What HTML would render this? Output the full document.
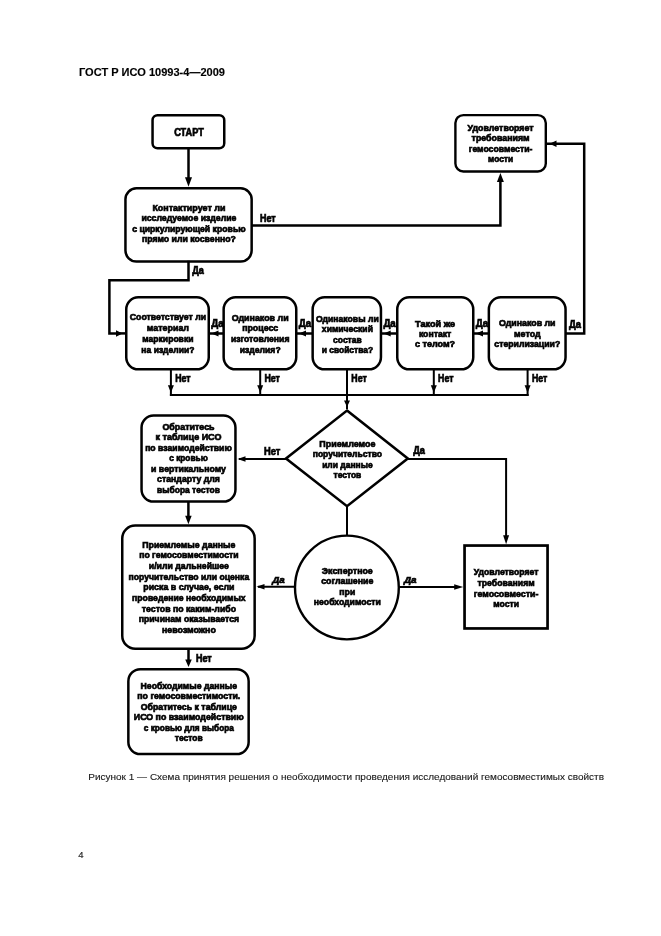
<!DOCTYPE html>
<html><head><meta charset="utf-8"><title>ГОСТ Р ИСО 10993-4—2009</title>
<style>
html,body{margin:0;padding:0;background:#fff;}
body{width:661px;height:936px;overflow:hidden;position:relative;font-family:"Liberation Sans",sans-serif;}
svg{position:absolute;left:0;top:0;will-change:transform;font-family:"Liberation Sans",sans-serif;}
</style></head><body>
<svg width="661" height="936" viewBox="0 0 661 936">
<text x="79" y="75.8" font-size="11.5" text-anchor="start" font-weight="bold" fill="#000" textLength="146" lengthAdjust="spacingAndGlyphs" stroke="#000" stroke-width="0.15">ГОСТ Р ИСО 10993-4—2009</text>
<rect x="152.55" y="115.25" width="71.70" height="33.10" rx="5" ry="5" fill="none" stroke="#000" stroke-width="2.5"/>
<text x="189" y="135.5" font-size="10.8" text-anchor="middle" font-weight="bold" fill="#000" textLength="29.7" lengthAdjust="spacingAndGlyphs" stroke="#000" stroke-width="0.7">СТАРТ</text>
<path d="M188.5 149 L188.5 178" fill="none" stroke="#000" stroke-width="2.5" stroke-linejoin="miter" stroke-linecap="square"/>
<polygon points="188.50,186.80 185.00,177.30 192.00,177.30" fill="#000"/>
<rect x="125.45" y="188.35" width="126.20" height="73.20" rx="11" ry="11" fill="none" stroke="#000" stroke-width="2.5"/>
<text x="188.9" y="210.6" font-size="9.5" text-anchor="middle" font-weight="bold" fill="#000" textLength="73" lengthAdjust="spacingAndGlyphs" stroke="#000" stroke-width="0.7">Контактирует ли</text>
<text x="188.9" y="221.2" font-size="9.5" text-anchor="middle" font-weight="bold" fill="#000" textLength="95" lengthAdjust="spacingAndGlyphs" stroke="#000" stroke-width="0.7">исследуемое изделие</text>
<text x="188.9" y="231.8" font-size="9.5" text-anchor="middle" font-weight="bold" fill="#000" textLength="113.5" lengthAdjust="spacingAndGlyphs" stroke="#000" stroke-width="0.7">с циркулирующей кровью</text>
<text x="188.9" y="242.4" font-size="9.5" text-anchor="middle" font-weight="bold" fill="#000" textLength="94" lengthAdjust="spacingAndGlyphs" stroke="#000" stroke-width="0.7">прямо или косвенно?</text>
<path d="M253 225.5 L500.4 225.5 L500.4 180" fill="none" stroke="#000" stroke-width="2.5" stroke-linejoin="miter" stroke-linecap="square"/>
<polygon points="500.40,173.00 496.90,182.00 503.90,182.00" fill="#000"/>
<text x="260" y="221.6" font-size="10.6" text-anchor="start" font-weight="bold" fill="#000" textLength="15.7" lengthAdjust="spacingAndGlyphs" stroke="#000" stroke-width="0.7">Нет</text>
<rect x="455.40" y="115.10" width="90.40" height="56.40" rx="8" ry="8" fill="none" stroke="#000" stroke-width="2.4"/>
<text x="500.6" y="130.6" font-size="9.5" text-anchor="middle" font-weight="bold" fill="#000" textLength="66" lengthAdjust="spacingAndGlyphs" stroke="#000" stroke-width="0.7">Удовлетворяет</text>
<text x="500.6" y="141.2" font-size="9.5" text-anchor="middle" font-weight="bold" fill="#000" textLength="58" lengthAdjust="spacingAndGlyphs" stroke="#000" stroke-width="0.7">требованиям</text>
<text x="500.6" y="151.8" font-size="9.5" text-anchor="middle" font-weight="bold" fill="#000" textLength="63.6" lengthAdjust="spacingAndGlyphs" stroke="#000" stroke-width="0.7">гемосовмести-</text>
<text x="500.6" y="162.4" font-size="9.5" text-anchor="middle" font-weight="bold" fill="#000" textLength="25" lengthAdjust="spacingAndGlyphs" stroke="#000" stroke-width="0.7">мости</text>
<path d="M566.8 333.6 L584.2 333.6 L584.2 143.7 L547 143.7" fill="none" stroke="#000" stroke-width="2.5" stroke-linejoin="miter" stroke-linecap="square"/>
<polygon points="549.50,143.70 556.50,140.45 556.50,146.95" fill="#000"/>
<text x="569" y="328.3" font-size="10.6" text-anchor="start" font-weight="bold" fill="#000" textLength="12" lengthAdjust="spacingAndGlyphs" stroke="#000" stroke-width="0.7">Да</text>
<path d="M188.5 262 L188.5 280.2 L109.4 280.2 L109.4 333.4 L118 333.4" fill="none" stroke="#000" stroke-width="2.5" stroke-linejoin="miter" stroke-linecap="square"/>
<polygon points="122.50,333.40 116.00,330.15 116.00,336.65" fill="#000"/>
<path d="M120 333.4 L125 333.4" fill="none" stroke="#000" stroke-width="2.5" stroke-linejoin="miter" stroke-linecap="square"/>
<text x="192.2" y="274" font-size="10.6" text-anchor="start" font-weight="bold" fill="#000" textLength="11.6" lengthAdjust="spacingAndGlyphs" stroke="#000" stroke-width="0.7">Да</text>
<rect x="126.25" y="297.35" width="82.50" height="72.00" rx="12" ry="12" fill="none" stroke="#000" stroke-width="2.5"/>
<rect x="223.65" y="297.35" width="72.60" height="72.00" rx="12" ry="12" fill="none" stroke="#000" stroke-width="2.5"/>
<rect x="312.65" y="297.35" width="68.30" height="72.00" rx="12" ry="12" fill="none" stroke="#000" stroke-width="2.5"/>
<rect x="397.25" y="297.35" width="76.00" height="72.00" rx="12" ry="12" fill="none" stroke="#000" stroke-width="2.5"/>
<rect x="488.85" y="297.35" width="76.70" height="72.00" rx="12" ry="12" fill="none" stroke="#000" stroke-width="2.5"/>
<text x="167.9" y="319.6" font-size="9.5" text-anchor="middle" font-weight="bold" fill="#000" textLength="76.2" lengthAdjust="spacingAndGlyphs" stroke="#000" stroke-width="0.7">Соответствует ли</text>
<text x="167.9" y="330.57" font-size="9.5" text-anchor="middle" font-weight="bold" fill="#000" textLength="42.2" lengthAdjust="spacingAndGlyphs" stroke="#000" stroke-width="0.7">материал</text>
<text x="167.9" y="341.54" font-size="9.5" text-anchor="middle" font-weight="bold" fill="#000" textLength="51.1" lengthAdjust="spacingAndGlyphs" stroke="#000" stroke-width="0.7">маркировки</text>
<text x="167.9" y="352.51" font-size="9.5" text-anchor="middle" font-weight="bold" fill="#000" textLength="53.1" lengthAdjust="spacingAndGlyphs" stroke="#000" stroke-width="0.7">на изделии?</text>
<text x="260.2" y="320.6" font-size="9.5" text-anchor="middle" font-weight="bold" fill="#000" textLength="56.9" lengthAdjust="spacingAndGlyphs" stroke="#000" stroke-width="0.7">Одинаков ли</text>
<text x="260.2" y="331.25" font-size="9.5" text-anchor="middle" font-weight="bold" fill="#000" textLength="36.1" lengthAdjust="spacingAndGlyphs" stroke="#000" stroke-width="0.7">процесс</text>
<text x="260.2" y="341.9" font-size="9.5" text-anchor="middle" font-weight="bold" fill="#000" textLength="58.5" lengthAdjust="spacingAndGlyphs" stroke="#000" stroke-width="0.7">изготовления</text>
<text x="260.2" y="352.55" font-size="9.5" text-anchor="middle" font-weight="bold" fill="#000" textLength="40.9" lengthAdjust="spacingAndGlyphs" stroke="#000" stroke-width="0.7">изделия?</text>
<text x="347.4" y="321.5" font-size="9.5" text-anchor="middle" font-weight="bold" fill="#000" textLength="62.6" lengthAdjust="spacingAndGlyphs" stroke="#000" stroke-width="0.7">Одинаковы ли</text>
<text x="347.4" y="332.0" font-size="9.5" text-anchor="middle" font-weight="bold" fill="#000" textLength="51.1" lengthAdjust="spacingAndGlyphs" stroke="#000" stroke-width="0.7">химический</text>
<text x="347.4" y="342.5" font-size="9.5" text-anchor="middle" font-weight="bold" fill="#000" textLength="28.6" lengthAdjust="spacingAndGlyphs" stroke="#000" stroke-width="0.7">состав</text>
<text x="347.4" y="353.0" font-size="9.5" text-anchor="middle" font-weight="bold" fill="#000" textLength="51.5" lengthAdjust="spacingAndGlyphs" stroke="#000" stroke-width="0.7">и свойства?</text>
<text x="435.1" y="326.8" font-size="9.5" text-anchor="middle" font-weight="bold" fill="#000" textLength="40" lengthAdjust="spacingAndGlyphs" stroke="#000" stroke-width="0.7">Такой же</text>
<text x="435.1" y="337.1" font-size="9.5" text-anchor="middle" font-weight="bold" fill="#000" textLength="32.4" lengthAdjust="spacingAndGlyphs" stroke="#000" stroke-width="0.7">контакт</text>
<text x="435.1" y="347.4" font-size="9.5" text-anchor="middle" font-weight="bold" fill="#000" textLength="40" lengthAdjust="spacingAndGlyphs" stroke="#000" stroke-width="0.7">с телом?</text>
<text x="527.3" y="325.7" font-size="9.5" text-anchor="middle" font-weight="bold" fill="#000" textLength="56.5" lengthAdjust="spacingAndGlyphs" stroke="#000" stroke-width="0.7">Одинаков ли</text>
<text x="527.3" y="336.55" font-size="9.5" text-anchor="middle" font-weight="bold" fill="#000" textLength="26.5" lengthAdjust="spacingAndGlyphs" stroke="#000" stroke-width="0.7">метод</text>
<text x="527.3" y="347.4" font-size="9.5" text-anchor="middle" font-weight="bold" fill="#000" textLength="65.9" lengthAdjust="spacingAndGlyphs" stroke="#000" stroke-width="0.7">стерилизации?</text>
<path d="M222.4 333.5 L210.0 333.5" fill="none" stroke="#000" stroke-width="2.5" stroke-linejoin="miter" stroke-linecap="square"/>
<polygon points="211.50,333.50 218.50,330.50 218.50,336.50" fill="#000"/>
<text x="211.2" y="327.3" font-size="10.6" text-anchor="start" font-weight="bold" fill="#000" textLength="12.4" lengthAdjust="spacingAndGlyphs" stroke="#000" stroke-width="0.7">Да</text>
<path d="M311.4 333.5 L297.5 333.5" fill="none" stroke="#000" stroke-width="2.5" stroke-linejoin="miter" stroke-linecap="square"/>
<polygon points="299.00,333.50 306.00,330.50 306.00,336.50" fill="#000"/>
<text x="298.7" y="327.3" font-size="10.6" text-anchor="start" font-weight="bold" fill="#000" textLength="12.4" lengthAdjust="spacingAndGlyphs" stroke="#000" stroke-width="0.7">Да</text>
<path d="M396 333.5 L382.2 333.5" fill="none" stroke="#000" stroke-width="2.5" stroke-linejoin="miter" stroke-linecap="square"/>
<polygon points="383.70,333.50 390.70,330.50 390.70,336.50" fill="#000"/>
<text x="383.4" y="327.3" font-size="10.6" text-anchor="start" font-weight="bold" fill="#000" textLength="12.4" lengthAdjust="spacingAndGlyphs" stroke="#000" stroke-width="0.7">Да</text>
<path d="M487.6 333.5 L474.5 333.5" fill="none" stroke="#000" stroke-width="2.5" stroke-linejoin="miter" stroke-linecap="square"/>
<polygon points="476.00,333.50 483.00,330.50 483.00,336.50" fill="#000"/>
<text x="475.7" y="327.3" font-size="10.6" text-anchor="start" font-weight="bold" fill="#000" textLength="12.4" lengthAdjust="spacingAndGlyphs" stroke="#000" stroke-width="0.7">Да</text>
<path d="M170.9 370 L170.9 394.9" fill="none" stroke="#000" stroke-width="2.0" stroke-linejoin="miter" stroke-linecap="square"/>
<polygon points="170.90,392.80 167.90,385.30 173.90,385.30" fill="#000"/>
<text x="175.20000000000002" y="381.7" font-size="10.6" text-anchor="start" font-weight="bold" fill="#000" textLength="15.4" lengthAdjust="spacingAndGlyphs" stroke="#000" stroke-width="0.7">Нет</text>
<path d="M260.2 370 L260.2 394.9" fill="none" stroke="#000" stroke-width="2.0" stroke-linejoin="miter" stroke-linecap="square"/>
<polygon points="260.20,392.80 257.20,385.30 263.20,385.30" fill="#000"/>
<text x="264.5" y="381.7" font-size="10.6" text-anchor="start" font-weight="bold" fill="#000" textLength="15.4" lengthAdjust="spacingAndGlyphs" stroke="#000" stroke-width="0.7">Нет</text>
<path d="M347 370 L347 408" fill="none" stroke="#000" stroke-width="2.0" stroke-linejoin="miter" stroke-linecap="square"/>
<polygon points="347.00,407.00 344.00,400.50 350.00,400.50" fill="#000"/>
<text x="351.3" y="381.7" font-size="10.6" text-anchor="start" font-weight="bold" fill="#000" textLength="15.4" lengthAdjust="spacingAndGlyphs" stroke="#000" stroke-width="0.7">Нет</text>
<path d="M433.8 370 L433.8 394.9" fill="none" stroke="#000" stroke-width="2.0" stroke-linejoin="miter" stroke-linecap="square"/>
<polygon points="433.80,392.80 430.80,385.30 436.80,385.30" fill="#000"/>
<text x="438.1" y="381.7" font-size="10.6" text-anchor="start" font-weight="bold" fill="#000" textLength="15.4" lengthAdjust="spacingAndGlyphs" stroke="#000" stroke-width="0.7">Нет</text>
<path d="M527.6 370 L527.6 394.9" fill="none" stroke="#000" stroke-width="2.0" stroke-linejoin="miter" stroke-linecap="square"/>
<polygon points="527.60,392.80 524.60,385.30 530.60,385.30" fill="#000"/>
<text x="531.9" y="381.7" font-size="10.6" text-anchor="start" font-weight="bold" fill="#000" textLength="15.4" lengthAdjust="spacingAndGlyphs" stroke="#000" stroke-width="0.7">Нет</text>
<path d="M170.9 394.9 L527.6 394.9" fill="none" stroke="#000" stroke-width="2.0" stroke-linejoin="miter" stroke-linecap="square"/>
<polygon points="347,410.6 407.8,458.6 347,506.2 286.0,458.6" fill="none" stroke="#000" stroke-width="2.6" stroke-linejoin="miter" stroke-miterlimit="10"/>
<text x="347.4" y="446.9" font-size="9.5" text-anchor="middle" font-weight="bold" fill="#000" textLength="56.2" lengthAdjust="spacingAndGlyphs" stroke="#000" stroke-width="0.7">Приемлемое</text>
<text x="347.4" y="457.3" font-size="9.5" text-anchor="middle" font-weight="bold" fill="#000" textLength="69.3" lengthAdjust="spacingAndGlyphs" stroke="#000" stroke-width="0.7">поручительство</text>
<text x="347.4" y="467.7" font-size="9.5" text-anchor="middle" font-weight="bold" fill="#000" textLength="50.5" lengthAdjust="spacingAndGlyphs" stroke="#000" stroke-width="0.7">или данные</text>
<text x="347.4" y="478.1" font-size="9.5" text-anchor="middle" font-weight="bold" fill="#000" textLength="27.8" lengthAdjust="spacingAndGlyphs" stroke="#000" stroke-width="0.7">тестов</text>
<path d="M286 458.9 L240 458.9" fill="none" stroke="#000" stroke-width="2.0" stroke-linejoin="miter" stroke-linecap="square"/>
<polygon points="237.50,458.90 245.50,456.15 245.50,461.65" fill="#000"/>
<text x="264" y="454.5" font-size="10.6" text-anchor="start" font-weight="bold" fill="#000" textLength="16.4" lengthAdjust="spacingAndGlyphs" stroke="#000" stroke-width="0.7">Нет</text>
<path d="M408 458.9 L506.1 458.9 L506.1 538" fill="none" stroke="#000" stroke-width="2.0" stroke-linejoin="miter" stroke-linecap="square"/>
<polygon points="506.10,544.30 503.10,535.30 509.10,535.30" fill="#000"/>
<text x="413.2" y="454.3" font-size="10.6" text-anchor="start" font-weight="bold" fill="#000" textLength="11.7" lengthAdjust="spacingAndGlyphs" stroke="#000" stroke-width="0.7">Да</text>
<path d="M347 506 L347 535" fill="none" stroke="#000" stroke-width="2.0" stroke-linejoin="miter" stroke-linecap="square"/>
<circle cx="346.9" cy="587.5" r="51.9" fill="none" stroke="#000" stroke-width="2.4"/>
<text x="347.3" y="573.8" font-size="9.5" text-anchor="middle" font-weight="bold" fill="#000" textLength="51" lengthAdjust="spacingAndGlyphs" stroke="#000" stroke-width="0.7">Экспертное</text>
<text x="347.3" y="584.33" font-size="9.5" text-anchor="middle" font-weight="bold" fill="#000" textLength="52.2" lengthAdjust="spacingAndGlyphs" stroke="#000" stroke-width="0.7">соглашение</text>
<text x="347.3" y="594.86" font-size="9.5" text-anchor="middle" font-weight="bold" fill="#000" textLength="15.9" lengthAdjust="spacingAndGlyphs" stroke="#000" stroke-width="0.7">при</text>
<text x="347.3" y="605.39" font-size="9.5" text-anchor="middle" font-weight="bold" fill="#000" textLength="67" lengthAdjust="spacingAndGlyphs" stroke="#000" stroke-width="0.7">необходимости</text>
<path d="M294.6 586.8 L259 586.8" fill="none" stroke="#000" stroke-width="2.0" stroke-linejoin="miter" stroke-linecap="square"/>
<polygon points="256.50,586.80 264.50,584.05 264.50,589.55" fill="#000"/>
<text x="272.3" y="582.7" font-size="9.8" text-anchor="start" font-weight="bold" fill="#000" textLength="12.5" lengthAdjust="spacingAndGlyphs" font-style="italic" stroke="#000" stroke-width="0.7">Да</text>
<path d="M399.5 587 L458 587" fill="none" stroke="#000" stroke-width="2.0" stroke-linejoin="miter" stroke-linecap="square"/>
<polygon points="463.20,587.00 454.20,584.25 454.20,589.75" fill="#000"/>
<text x="404.0" y="582.9" font-size="9.8" text-anchor="start" font-weight="bold" fill="#000" textLength="12.6" lengthAdjust="spacingAndGlyphs" font-style="italic" stroke="#000" stroke-width="0.7">Да</text>
<rect x="464.55" y="545.55" width="83.00" height="82.90" rx="0" ry="0" fill="none" stroke="#000" stroke-width="2.7"/>
<text x="506.1" y="575.2" font-size="9.5" text-anchor="middle" font-weight="bold" fill="#000" textLength="64.7" lengthAdjust="spacingAndGlyphs" stroke="#000" stroke-width="0.7">Удовлетворяет</text>
<text x="506.1" y="585.85" font-size="9.5" text-anchor="middle" font-weight="bold" fill="#000" textLength="57.1" lengthAdjust="spacingAndGlyphs" stroke="#000" stroke-width="0.7">требованиям</text>
<text x="506.1" y="596.5" font-size="9.5" text-anchor="middle" font-weight="bold" fill="#000" textLength="64.7" lengthAdjust="spacingAndGlyphs" stroke="#000" stroke-width="0.7">гемосовмести-</text>
<text x="506.1" y="607.15" font-size="9.5" text-anchor="middle" font-weight="bold" fill="#000" textLength="25.7" lengthAdjust="spacingAndGlyphs" stroke="#000" stroke-width="0.7">мости</text>
<rect x="141.55" y="415.55" width="93.90" height="86.00" rx="12" ry="12" fill="none" stroke="#000" stroke-width="2.5"/>
<text x="188.5" y="429.8" font-size="9.5" text-anchor="middle" font-weight="bold" fill="#000" textLength="52.2" lengthAdjust="spacingAndGlyphs" stroke="#000" stroke-width="0.7">Обратитесь</text>
<text x="188.5" y="440.32" font-size="9.5" text-anchor="middle" font-weight="bold" fill="#000" textLength="65.8" lengthAdjust="spacingAndGlyphs" stroke="#000" stroke-width="0.7">к таблице ИСО</text>
<text x="188.5" y="450.84" font-size="9.5" text-anchor="middle" font-weight="bold" fill="#000" textLength="86.7" lengthAdjust="spacingAndGlyphs" stroke="#000" stroke-width="0.7">по взаимодействию</text>
<text x="188.5" y="461.36" font-size="9.5" text-anchor="middle" font-weight="bold" fill="#000" textLength="38.6" lengthAdjust="spacingAndGlyphs" stroke="#000" stroke-width="0.7">с кровью</text>
<text x="188.5" y="471.88" font-size="9.5" text-anchor="middle" font-weight="bold" fill="#000" textLength="74.9" lengthAdjust="spacingAndGlyphs" stroke="#000" stroke-width="0.7">и вертикальному</text>
<text x="188.5" y="482.4" font-size="9.5" text-anchor="middle" font-weight="bold" fill="#000" textLength="62.8" lengthAdjust="spacingAndGlyphs" stroke="#000" stroke-width="0.7">стандарту для</text>
<text x="188.5" y="492.92" font-size="9.5" text-anchor="middle" font-weight="bold" fill="#000" textLength="62.8" lengthAdjust="spacingAndGlyphs" stroke="#000" stroke-width="0.7">выбора тестов</text>
<path d="M188.4 502.7 L188.4 518" fill="none" stroke="#000" stroke-width="2.5" stroke-linejoin="miter" stroke-linecap="square"/>
<polygon points="188.40,524.30 185.15,515.80 191.65,515.80" fill="#000"/>
<rect x="122.25" y="525.55" width="132.40" height="123.10" rx="13" ry="13" fill="none" stroke="#000" stroke-width="2.5"/>
<text x="188.9" y="547.7" font-size="9.5" text-anchor="middle" font-weight="bold" fill="#000" textLength="93.2" lengthAdjust="spacingAndGlyphs" stroke="#000" stroke-width="0.7">Приемлемые данные</text>
<text x="188.9" y="558.38" font-size="9.5" text-anchor="middle" font-weight="bold" fill="#000" textLength="99.4" lengthAdjust="spacingAndGlyphs" stroke="#000" stroke-width="0.7">по гемосовместимости</text>
<text x="188.9" y="569.06" font-size="9.5" text-anchor="middle" font-weight="bold" fill="#000" textLength="80.1" lengthAdjust="spacingAndGlyphs" stroke="#000" stroke-width="0.7">и/или дальнейшее</text>
<text x="188.9" y="579.74" font-size="9.5" text-anchor="middle" font-weight="bold" fill="#000" textLength="120.6" lengthAdjust="spacingAndGlyphs" stroke="#000" stroke-width="0.7">поручительство или оценка</text>
<text x="188.9" y="590.42" font-size="9.5" text-anchor="middle" font-weight="bold" fill="#000" textLength="91.2" lengthAdjust="spacingAndGlyphs" stroke="#000" stroke-width="0.7">риска в случае, если</text>
<text x="188.9" y="601.1" font-size="9.5" text-anchor="middle" font-weight="bold" fill="#000" textLength="113.6" lengthAdjust="spacingAndGlyphs" stroke="#000" stroke-width="0.7">проведение необходимых</text>
<text x="188.9" y="611.78" font-size="9.5" text-anchor="middle" font-weight="bold" fill="#000" textLength="94.2" lengthAdjust="spacingAndGlyphs" stroke="#000" stroke-width="0.7">тестов по каким-либо</text>
<text x="188.9" y="622.46" font-size="9.5" text-anchor="middle" font-weight="bold" fill="#000" textLength="100.4" lengthAdjust="spacingAndGlyphs" stroke="#000" stroke-width="0.7">причинам оказывается</text>
<text x="188.9" y="633.14" font-size="9.5" text-anchor="middle" font-weight="bold" fill="#000" textLength="53.8" lengthAdjust="spacingAndGlyphs" stroke="#000" stroke-width="0.7">невозможно</text>
<path d="M188.5 649.5 L188.5 662" fill="none" stroke="#000" stroke-width="2.5" stroke-linejoin="miter" stroke-linecap="square"/>
<polygon points="188.50,667.00 185.25,659.50 191.75,659.50" fill="#000"/>
<text x="195.9" y="661.8" font-size="10.6" text-anchor="start" font-weight="bold" fill="#000" textLength="15.8" lengthAdjust="spacingAndGlyphs" stroke="#000" stroke-width="0.7">Нет</text>
<rect x="128.35" y="669.15" width="120.30" height="84.90" rx="12" ry="12" fill="none" stroke="#000" stroke-width="2.5"/>
<text x="188.8" y="688.6" font-size="9.5" text-anchor="middle" font-weight="bold" fill="#000" textLength="96.5" lengthAdjust="spacingAndGlyphs" stroke="#000" stroke-width="0.7">Необходимые данные</text>
<text x="188.8" y="699.1" font-size="9.5" text-anchor="middle" font-weight="bold" fill="#000" textLength="103" lengthAdjust="spacingAndGlyphs" stroke="#000" stroke-width="0.7">по гемосовместимости.</text>
<text x="188.8" y="709.6" font-size="9.5" text-anchor="middle" font-weight="bold" fill="#000" textLength="96.2" lengthAdjust="spacingAndGlyphs" stroke="#000" stroke-width="0.7">Обратитесь к таблице</text>
<text x="188.8" y="720.1" font-size="9.5" text-anchor="middle" font-weight="bold" fill="#000" textLength="110" lengthAdjust="spacingAndGlyphs" stroke="#000" stroke-width="0.7">ИСО по взаимодействию</text>
<text x="188.8" y="730.6" font-size="9.5" text-anchor="middle" font-weight="bold" fill="#000" textLength="90" lengthAdjust="spacingAndGlyphs" stroke="#000" stroke-width="0.7">с кровью для выбора</text>
<text x="188.8" y="741.1" font-size="9.5" text-anchor="middle" font-weight="bold" fill="#000" textLength="27.9" lengthAdjust="spacingAndGlyphs" stroke="#000" stroke-width="0.7">тестов</text>
<text x="88.3" y="780.2" font-size="8.9" text-anchor="start" font-weight="normal" fill="#1a1a1a" textLength="515.7" lengthAdjust="spacingAndGlyphs" stroke="#1a1a1a" stroke-width="0.12">Рисунок 1 — Схема принятия решения о необходимости проведения исследований гемосовместимых свойств</text>
<text x="78.2" y="858.2" font-size="9.5" text-anchor="start" font-weight="normal" fill="#222" stroke="#222" stroke-width="0.15">4</text>
</svg>
</body></html>
